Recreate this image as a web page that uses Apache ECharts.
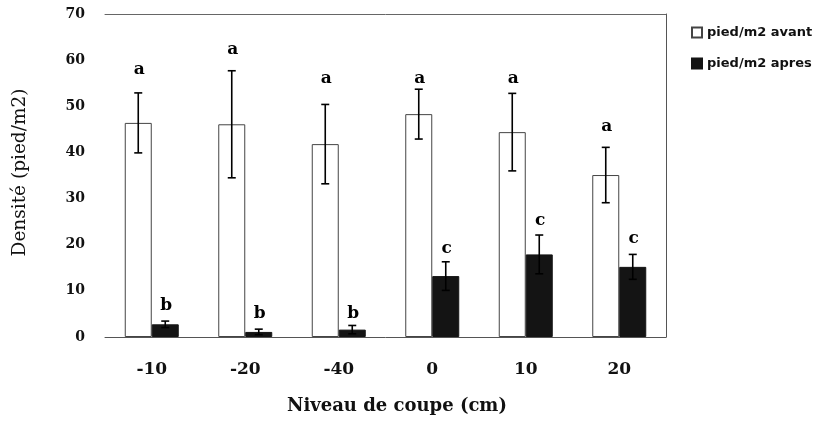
<!DOCTYPE html>
<html>
<head>
<meta charset="utf-8">
<script src="https://cdn.jsdelivr.net/npm/echarts@6/dist/echarts.min.js"></script>
<style>html,body{margin:0;padding:0;background:#fff}#c{width:831px;height:430px}</style>
</head>
<body>
<div id="c"></div>
<script>
const categories = ['-10', '-20', '-40', '0', '10', '20'];
const avant = [46.4, 46.1, 41.8, 48.3, 44.4, 35.1];
const avantErr = [6.5, 11.6, 8.6, 5.4, 8.4, 6.0];
const avantLetters = ['a', 'a', 'a', 'a', 'a', 'a'];
const avantLetterY = [57.9, 62.2, 56.1, 56.1, 56.1, 45.7];
const apres = [2.75, 1.1, 1.6, 13.2, 17.9, 15.2];
const apresErr = [0.7, 0.6, 0.9, 3.1, 4.2, 2.7];
const apresLetters = ['b', 'b', 'b', 'c', 'c', 'c'];
const apresLetterY = [6.9, 5.1, 5.1, 19.2, 25.3, 21.4];
const yTicks = [0, 10, 20, 30, 40, 50, 60, 70];

const BAR_W = 27;
const serif = 'DejaVu Serif';

function errSeries(name, means, errs, letters, letterY, offset) {
  return {
    type: 'custom',
    name: name + '_err',
    z: 5,
    silent: true,
    data: means.map((m, i) => [i, m, errs[i], letterY[i]]),
    renderItem: function (params, api) {
      const i = api.value(0);
      const m = api.value(1);
      const e = api.value(2);
      const ly = api.value(3);
      const top = api.coord([i, m + e]);
      const bot = api.coord([i, m - e]);
      const lp = api.coord([i, ly]);
      const x = top[0] + offset;
      const cap = 4;
      const st = { stroke: '#000', lineWidth: 1.6 };
      return {
        type: 'group',
        children: [
          { type: 'line', shape: { x1: x, y1: top[1], x2: x, y2: bot[1] }, style: st },
          { type: 'line', shape: { x1: x - cap, y1: top[1], x2: x + cap, y2: top[1] }, style: st },
          { type: 'line', shape: { x1: x - cap, y1: bot[1], x2: x + cap, y2: bot[1] }, style: st },
          { type: 'text', x: lp[0] + offset + 1, y: lp[1],
            style: { text: letters[i], fill: '#000', font: 'bold 17px "' + serif + '"', align: 'center', verticalAlign: 'middle' } }
        ]
      };
    }
  };
}

const chart = echarts.init(document.getElementById('c'), null, { renderer: 'canvas' });
chart.setOption({
  animation: false,
  backgroundColor: '#fff',
  grid: { left: 105, right: 165, top: 14, bottom: 93, containLabel: false },
  legend: {
    orient: 'vertical',
    left: 686,
    top: 21,
    itemWidth: 10,
    itemHeight: 10,
    itemGap: 18,
    icon: 'rect',
    textStyle: { fontFamily: 'DejaVu Sans', fontWeight: 'bold', fontSize: 13, color: '#111' },
    data: ['pied/m2 avant', 'pied/m2 apres']
  },
  xAxis: [{
    type: 'category',
    data: categories,
    axisLine: { show: true, lineStyle: { color: '#555', width: 1 } },
    axisTick: { show: false },
    axisLabel: { fontFamily: serif, fontWeight: 'bold', fontSize: 17, color: '#111', margin: 24 }
  }, {
    type: 'category',
    position: 'top',
    data: categories,
    axisLine: { show: true, onZero: false, lineStyle: { color: '#666', width: 1 } },
    axisTick: { show: false },
    axisLabel: { show: false }
  }],
  yAxis: [{
    type: 'value',
    min: 0, max: 70, interval: 10,
    name: 'Densité (pied/m2)',
    nameLocation: 'middle',
    nameGap: 75,
    nameTextStyle: { fontFamily: serif, fontSize: 18.5, color: '#111', padding: [0, 0, 0, 6] },
    axisLine: { show: false },
    axisTick: { show: false },
    splitLine: { show: false },
    axisLabel: { fontFamily: serif, fontWeight: 'bold', fontSize: 14, color: '#111', margin: 20,
      formatter: v => yTicks.includes(v) ? String(v) : '' }
  }, {
    type: 'value',
    position: 'right',
    min: 0, max: 70, interval: 10,
    axisLine: { show: true, onZero: false, lineStyle: { color: '#555', width: 1 } },
    axisTick: { show: false },
    splitLine: { show: false },
    axisLabel: { show: false }
  }],
  series: [
    {
      name: 'pied/m2 avant', type: 'bar', data: avant, barWidth: BAR_W, barGap: '0%',
      itemStyle: { color: '#fff', borderColor: '#444', borderWidth: 1 }
    },
    {
      name: 'pied/m2 apres', type: 'bar', data: apres, barWidth: BAR_W, barGap: '0%',
      itemStyle: { color: '#141414', borderColor: '#141414', borderWidth: 1 }
    },
    errSeries('avant', avant, avantErr, avantLetters, avantLetterY, -BAR_W / 2),
    errSeries('apres', apres, apresErr, apresLetters, apresLetterY, BAR_W / 2)
  ],
  graphic: [{
    type: 'text', left: 287, top: 397,
    style: { text: 'Niveau de coupe (cm)', font: 'bold 18px "' + serif + '"', fill: '#111' }
  }]
});
</script>
</body>
</html>
